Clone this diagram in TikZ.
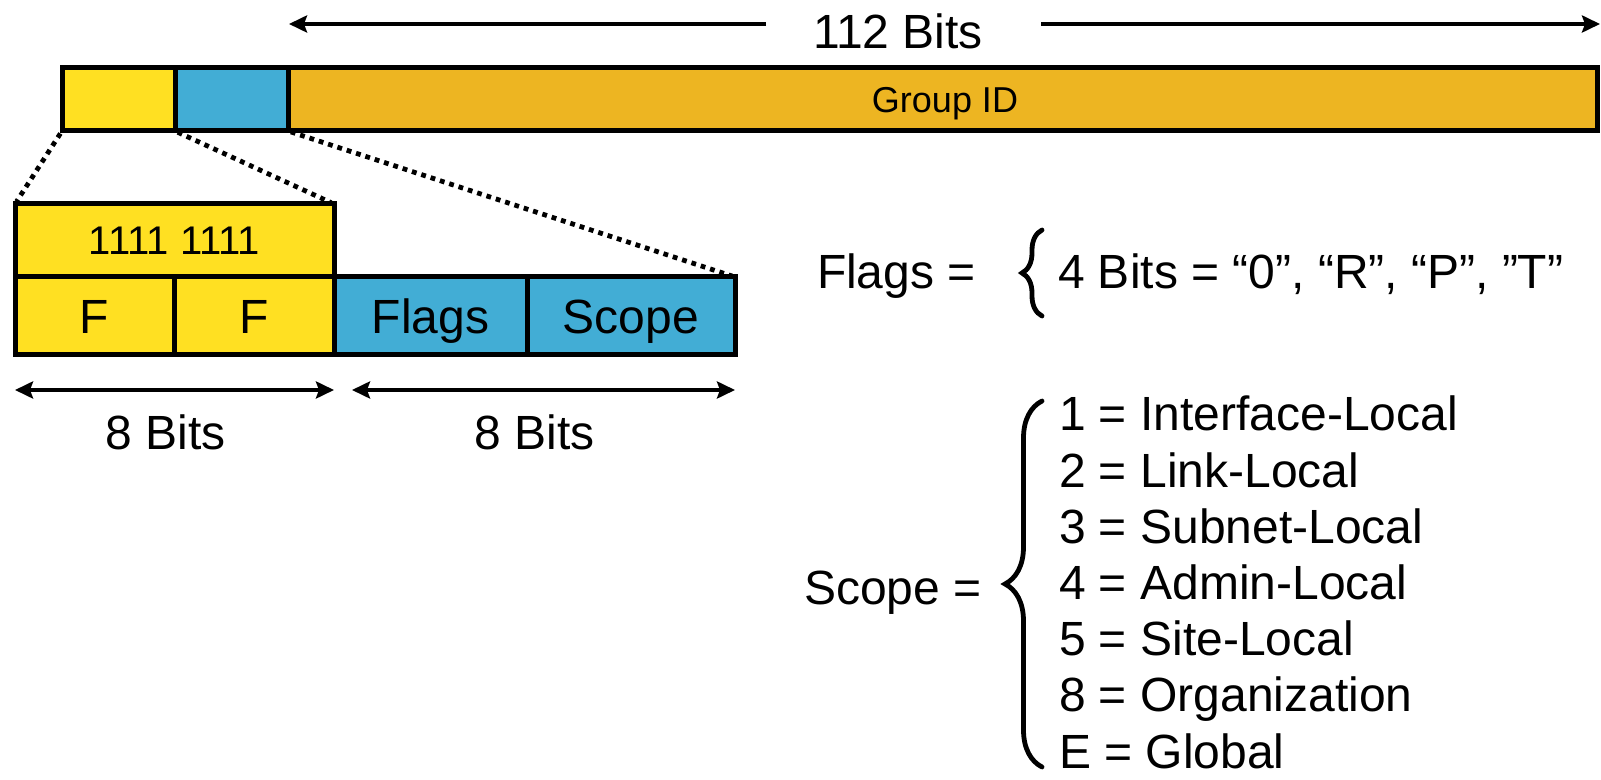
\documentclass[tikz,border=0pt]{standalone}
\usepackage{fontspec}
\setmainfont{Liberation Sans}
\usetikzlibrary{arrows.meta,decorations.pathreplacing}
\definecolor{cyel}{HTML}{FFE022}
\definecolor{cblu}{HTML}{42ADD5}
\definecolor{corg}{HTML}{EDB522}
\begin{document}
\begin{tikzpicture}[x=0.5pt,y=-0.5pt,
  cell/.style={draw=black, line width=2.5pt, inner sep=0pt, outer sep=0pt,
    anchor=north west, text height=17.2pt, text depth=0pt,
    font=\fontsize{24}{28}\selectfont},
  lbl/.style={inner sep=0pt, outer sep=0pt, anchor=base, font=\fontsize{24}{28}\selectfont},
  lblw/.style={inner sep=0pt, outer sep=0pt, anchor=base west, font=\fontsize{24}{28}\selectfont},
  dimarrow/.style={line width=2pt, {Stealth[length=9pt,width=8.5pt,inset=1.5pt]}-{Stealth[length=9pt,width=8.5pt,inset=1.5pt]}},
  onearrow/.style={line width=2pt, -{Stealth[length=9pt,width=8.5pt,inset=1.5pt]}},
  zoomline/.style={line width=2.4pt, dash pattern=on 2.4pt off 2.5pt, shorten <=1.5pt, shorten >=1.5pt},
  bracket/.style={decorate, line width=2.4pt, line cap=round},
]
\useasboundingbox (0,0) rectangle (1601,780);

% top bar
\node[cell, fill=cyel, minimum width=56.5pt, minimum height=31.5pt] (y1) at (62,68) {};
\node[cell, fill=cblu, minimum width=56.5pt, minimum height=31.5pt] (b1) at (175,68) {};
\node[cell, fill=corg, minimum width=654.5pt, minimum height=31.5pt] (gid) at (288,68) {};
\node[lbl, font=\fontsize{18}{22}\selectfont] (gidt) at (945,113) {Group ID};

% 112 bits
\node[lbl] (t112) at (898,49) {112 Bits};
\coordinate (tlin) at (766,24);
\coordinate (tl) at (289,24);
\coordinate (trin) at (1041,24);
\coordinate (tr) at (1600,24);
\draw[onearrow] (tlin) -- (tl);
\draw[onearrow] (trin) -- (tr);

% expanded fields
\node[cell, fill=cyel, minimum width=159.5pt, minimum height=36.5pt, text height=14.3pt,
      font=\fontsize{20}{24}\selectfont] (ones) at (15,204) {1111 1111};
\node[cell, fill=cyel, minimum width=79.5pt, minimum height=39pt] (f1) at (15,277) {F};
\node[cell, fill=cyel, minimum width=80pt, minimum height=39pt] (f2) at (174,277) {F};
\node[cell, fill=cblu, minimum width=96.5pt, minimum height=39pt] (flg) at (334,277) {Flags};
\node[cell, fill=cblu, minimum width=104pt, minimum height=39pt] (scp) at (527,277) {Scope};

% dotted zoom lines
\draw[zoomline] (y1.south west) -- (ones.north west);
\draw[zoomline] (b1.south west) -- (ones.north east);
\draw[zoomline] (gid.south west) -- (scp.north east);

% 8 bits dimensions
\draw[dimarrow] ([yshift=-17.5pt]f1.south west) -- ([yshift=-17.5pt]f2.south east);
\draw[dimarrow] ([xshift=9pt,yshift=-17.5pt]flg.south west) -- ([yshift=-17.5pt]scp.south east);
\node[lbl] (b8a) at (166,450) {8 Bits};
\node[lbl] (b8b) at (535,450) {8 Bits};

% flags legend
\node[lblw] (flagseq) at (817,289) {Flags =};
\coordinate (fbb) at (1042,316);
\coordinate (fbt) at (1042,230);
\draw[bracket, decoration={brace, amplitude=10pt}] (fbb) -- (fbt);
\node[lblw] (flagsv) at (1058,289) {4 Bits = “0”, “R”, “P”, ”T”};

% scope legend
\node[lblw] (scopeeq) at (804,604) {Scope =};
\coordinate (sbb) at (1042,767);
\coordinate (sbt) at (1042,401);
\draw[bracket, decoration={brace, amplitude=18.5pt}] (sbb) -- (sbt);
\node[lblw] (s1) at (1059,431) {1 = Interface-Local};
\node[lblw] (s2) at (1059,487.2) {2 = Link-Local};
\node[lblw] (s3) at (1059,543.3) {3 = Subnet-Local};
\node[lblw] (s4) at (1059,599.5) {4 = Admin-Local};
\node[lblw] (s5) at (1059,655.7) {5 = Site-Local};
\node[lblw] (s6) at (1059,711.8) {8 = Organization};
\node[lblw] (s7) at (1059,768) {E = Global};
\end{tikzpicture}
\end{document}
